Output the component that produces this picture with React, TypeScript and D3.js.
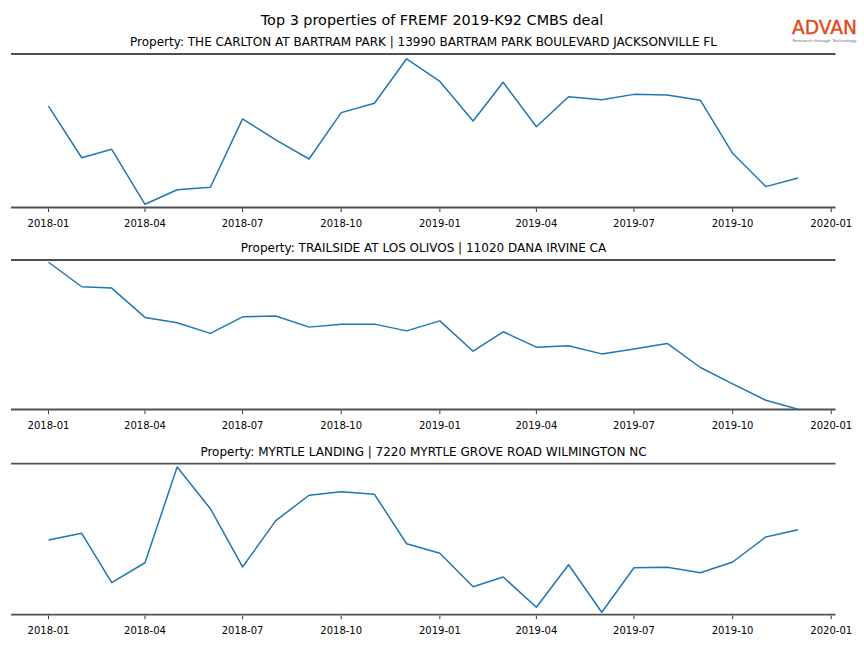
import React, { useEffect, useRef } from 'react';
import * as d3 from 'd3';

const months = [
  '2018-01', '2018-02', '2018-03', '2018-04', '2018-05', '2018-06',
  '2018-07', '2018-08', '2018-09', '2018-10', '2018-11', '2018-12',
  '2019-01', '2019-02', '2019-03', '2019-04', '2019-05', '2019-06',
  '2019-07', '2019-08', '2019-09', '2019-10', '2019-11', '2019-12',
];

const propertyTitles = [
  'Property: THE CARLTON AT BARTRAM PARK | 13990 BARTRAM PARK BOULEVARD JACKSONVILLE FL',
  'Property: TRAILSIDE AT LOS OLIVOS | 11020 DANA IRVINE CA',
  'Property: MYRTLE LANDING | 7220 MYRTLE GROVE ROAD WILMINGTON NC',
];

// relative foot traffic index
const carltonValues = [
  66.1, 32.4, 37.9, 2.1, 11.6, 13.2, 57.7, 44.0, 31.6, 61.8, 67.9, 96.9,
  82.1, 56.4, 81.6, 52.6, 72.2, 70.2, 73.7, 73.3, 69.8, 35.3, 13.6, 19.2,
];
const trailsideValues = [
  98.5, 82.1, 81.2, 61.6, 58.0, 50.9, 62.0, 62.5, 55.1, 57.1, 57.1, 52.6,
  59.3, 39.0, 52.0, 41.7, 42.6, 37.2, 40.4, 44.2, 28.1, 17.1, 6.2, 0.2,
];
const myrtleValues = [
  49.5, 53.9, 21.2, 34.4, 97.8, 70.2, 31.6, 62.3, 79.1, 81.5, 79.7, 47.0,
  40.7, 18.5, 25.0, 4.9, 33.1, 1.6, 31.1, 31.4, 27.8, 34.9, 51.5, 56.3,
];

const tickLabels = [
  '2018-01', '2018-04', '2018-07', '2018-10', '2019-01',
  '2019-04', '2019-07', '2019-10', '2020-01',
];

const chartTitle = 'Top 3 properties of FREMF 2019-K92 CMBS deal';

export default function App() {
  const svgRef = useRef<SVGSVGElement>(null);

  useEffect(() => {
    if (!svgRef.current) return;
    const svg = d3.select(svgRef.current);
    svg.selectAll('*').remove();

    const parse = d3.utcParse('%Y-%m');
    const dates = months.map(m => parse(m) as Date);
    const t0 = dates[0].getTime();
    const t1 = dates[dates.length - 1].getTime();
    const pad = (t1 - t0) * 0.05;

    const x = d3.scaleUtc()
      .domain([new Date(t0 - pad), new Date(t1 + pad)])
      .range([11, 835.5]);

    const panels = [
      { title: propertyTitles[0], values: carltonValues, top: 54, bottom: 207.5, domain: [0, 100] },
      { title: propertyTitles[1], values: trailsideValues, top: 260, bottom: 409.5, domain: [0, 100] },
      { title: propertyTitles[2], values: myrtleValues, top: 463.7, bottom: 614.7, domain: [0, 100] },
    ];

    svg.append('text')
      .attr('x', 432)
      .attr('y', 25)
      .attr('text-anchor', 'middle')
      .attr('font-size', '14.4px')
      .attr('fill', '#000')
      .text(chartTitle);

    panels.forEach(p => {
      const y = d3.scaleLinear().domain(p.domain).range([p.bottom, p.top]);
      const g = svg.append('g');

      g.append('text')
        .attr('x', 423.5)
        .attr('y', p.top - 8)
        .attr('text-anchor', 'middle')
        .attr('font-size', '12px')
        .attr('fill', '#000')
        .text(p.title);

      // top and bottom spines
      [p.top, p.bottom].forEach(yy => {
        g.append('line')
          .attr('x1', 11).attr('x2', 835.5)
          .attr('y1', yy).attr('y2', yy)
          .attr('stroke', '#505050')
          .attr('stroke-width', 1.8);
      });

      // ticks
      const ticks = tickLabels.map(t => parse(t) as Date);
      ticks.forEach((d, i) => {
        const tx = x(d);
        g.append('line')
          .attr('x1', tx).attr('x2', tx)
          .attr('y1', p.bottom + 1).attr('y2', p.bottom + 4.5)
          .attr('stroke', '#000')
          .attr('stroke-width', 0.8);
        g.append('text')
          .attr('x', tx)
          .attr('y', p.bottom + 19.5)
          .attr('text-anchor', 'middle')
          .attr('font-size', '10px')
          .attr('fill', '#000')
          .text(tickLabels[i]);
      });

      const line = d3.line<number>()
        .x((_, i) => x(dates[i]))
        .y(v => y(v));

      g.append('path')
        .datum(p.values)
        .attr('fill', 'none')
        .attr('stroke', '#1f77b4')
        .attr('stroke-width', 1.5)
        .attr('stroke-linejoin', 'round')
        .attr('d', line);
    });

    // logo
    const logo = svg.append('g');
    logo.append('text')
      .attr('x', 824.5)
      .attr('y', 34)
      .attr('text-anchor', 'middle')
      .attr('font-size', '19px')
      .attr('fill', '#e14a1c')
      .attr('stroke', '#e14a1c')
      .attr('stroke-width', 0.4)
      .attr('textLength', 65)
      .attr('lengthAdjust', 'spacingAndGlyphs')
      .text('ADVAN');
    logo.append('text')
      .attr('x', 824.5)
      .attr('y', 42)
      .attr('text-anchor', 'middle')
      .attr('font-size', '3.8px')
      .attr('fill', '#666')
      .attr('textLength', 64)
      .attr('lengthAdjust', 'spacingAndGlyphs')
      .text('Research through Technology');
  }, []);

  return (
    <svg
      ref={svgRef}
      width={864}
      height={648}
      style={{ position: 'absolute', left: 0, top: 0, background: '#fff', fontFamily: 'DejaVu Sans, sans-serif' }}
    />
  );
}
